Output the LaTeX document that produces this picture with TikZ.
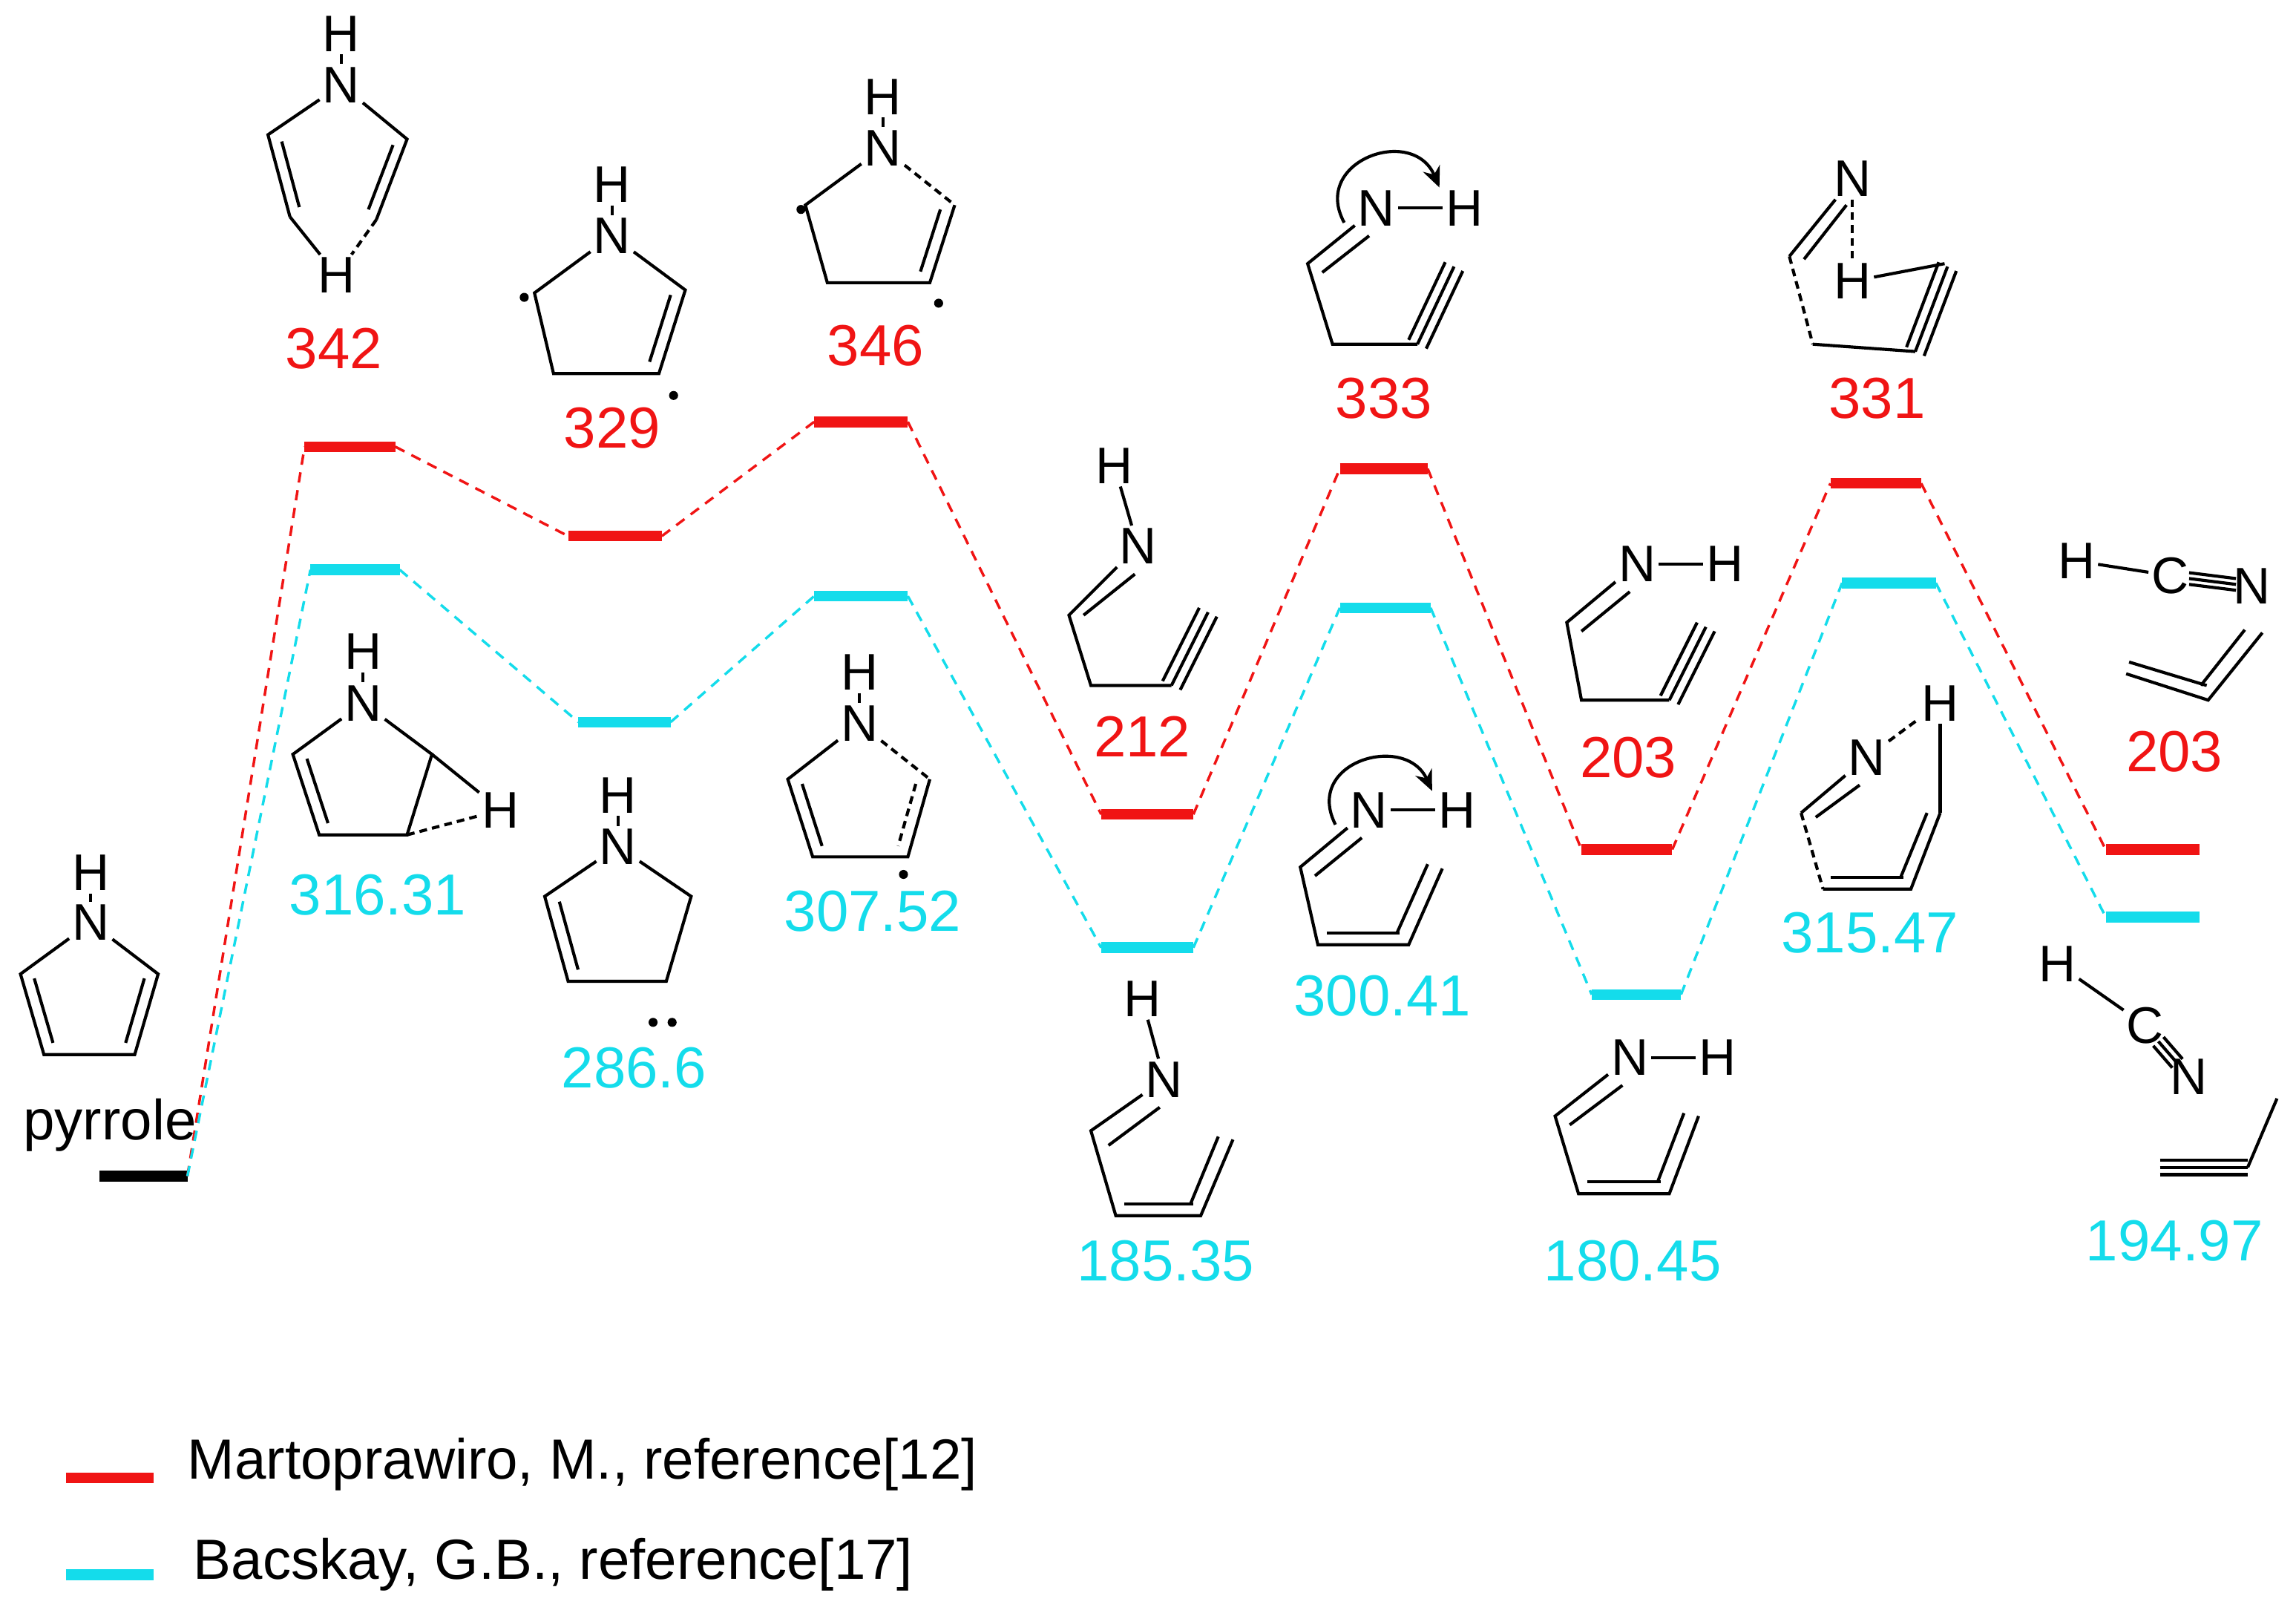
\documentclass[tikz,border=0pt]{standalone}
\usepackage{fontspec}
\setmainfont{Liberation Sans}
\usetikzlibrary{calc,arrows.meta}
\definecolor{myred}{RGB}{240,20,20}
\definecolor{mycyan}{RGB}{20,220,235}
\tikzset{
 bond/.style={line width=1.2pt,black},
 atm/.style={inner sep=1pt,font=\fontsize{20}{22}\selectfont},
 lvlr/.style={line width=4.2pt,myred},
 lvlc/.style={line width=4.2pt,mycyan},
 dr/.style={myred,line width=1pt,dash pattern=on 4pt off 3pt},
 dc/.style={mycyan,line width=1pt,dash pattern=on 4pt off 3pt},
 nr/.style={myred,font=\fontsize{22.5}{25}\selectfont},
 nc/.style={mycyan,font=\fontsize{22.5}{25}\selectfont},
 dsh/.style={bond,dash pattern=on 3pt off 2pt},
 dotm/.style={circle,fill=black,inner sep=0pt,minimum size=3.5pt}
}
\newcommand{\inb}[3]{\draw[bond] ($(#1)!.2!(#3)$)--($(#2)!.2!(#3)$);}
\newcommand{\pl}[3]{\draw[bond,shift={(#3)}] (#1)--(#2);}
\newcommand{\tri}[3]{\draw[bond] (#1)--(#2);\draw[bond,shift={(#3)}] (#1)--(#2);\draw[bond,shift={($-1*(#3)$)}] (#1)--(#2);}
\begin{document}
\begin{tikzpicture}[x=0.02cm,y=-0.02cm]
\useasboundingbox (0,0) rectangle (1568,1099);
% levels
\draw[line width=4.2pt] (68,803)--(128,803);
\foreach \a/\b/\y [count=\i] in {208/270/305,388/452/366,556/620/288,752/815/556,915/975/320,1080/1142/580,1250/1312/330,1438/1502/580}
  {\draw[lvlr] (\a,\y)--(\b,\y); \coordinate (rL\i) at (\a,\y); \coordinate (rR\i) at (\b,\y);}
\foreach \a/\b/\y [count=\i] in {212/273/389,395/458/493,556/620/407,752/815/647,915/977/415,1087/1148/679,1258/1322/398,1438/1502/626}
  {\draw[lvlc] (\a,\y)--(\b,\y); \coordinate (cL\i) at (\a,\y); \coordinate (cR\i) at (\b,\y);}
\coordinate (p0) at (128,803);
\draw[dr] (p0)--(rL1); \draw[dc] (p0)--(cL1);
\foreach \i [evaluate=\i as \j using int(\i+1)] in {1,...,7}{
  \draw[dr] (rR\i)--(rL\j); \draw[dc] (cR\i)--(cL\j);}
% numbers
\foreach \x/\y/\t in {228/238/342,418/292/329,598/236/346,780/503/212,945/272/333,1112/517/203,1282/272/331,1485/513/203}
  \node[nr] at (\x,\y) {\t};
\foreach \x/\y/\t in {258/611/316.31,433/729/286.6,596/622/307.52,796/861/185.35,944/680/300.41,1115/861/180.45,1277/637/315.47,1485/847/194.97}
  \node[nc] at (\x,\y) {\t};
% legend
\draw[lvlr] (45,1009)--(105,1009); \node[anchor=west,font=\fontsize{22}{24}\selectfont] at (122,1000) {Martoprawiro, M., reference[12]};
\draw[lvlc] (45,1075)--(105,1075); \node[anchor=west,font=\fontsize{22}{24}\selectfont] at (126,1068) {Bacskay, G.B., reference[17]};
% pyrrole
\node[atm] (aH) at (62,596) {H}; \node[atm] (aN) at (62,630) {N};
\draw[bond] (aH)--(aN); \draw[bond] (aN)--(108,665)--(92,720)--(30,720)--(14,665)--(aN);
\inb{108,665}{92,720}{61,680} \inb{14,665}{30,720}{61,680}
\node[font=\fontsize{22}{24}\selectfont] at (75,768) {pyrrole};
% 342
\node[atm] (bH) at (233,23) {H}; \node[atm] (bN) at (233,58) {N};
\draw[bond] (bH)--(bN); \draw[bond] (bN)--(278,95)--(257,150); \draw[bond] (bN)--(183,92)--(198,148);
\inb{278,95}{257,150}{230,115} \inb{183,92}{198,148}{230,115}
\node[atm] (bH2) at (230,188) {H};
\draw[bond] (198,148)--(bH2); \draw[dsh] (257,150)--(bH2);
% 329
\node[atm] (cH) at (418,126) {H}; \node[atm] (cN) at (418,161) {N};
\draw[bond] (cH)--(cN); \draw[bond] (cN)--(468,198)--(450,255)--(378,255)--(365,200)--(cN);
\inb{468,198}{450,255}{418,215}
\node[dotm] at (358,203) {}; \node[dotm] at (460,270) {};
% 346
\node[atm] (dH) at (603,66) {H}; \node[atm] (dN) at (603,101) {N};
\draw[bond] (dH)--(dN); \draw[dsh] (dN)--(652,140); \draw[bond] (652,140)--(635,193)--(565,193)--(550,140)--(dN);
\inb{652,140}{635,193}{603,155}
\node[dotm] at (547,143) {}; \node[dotm] at (641,207) {};
% 212
\node[atm] (eH) at (761,318) {H}; \node[atm] (eN) at (777,373) {N};
\draw[bond] (eH)--(eN); \draw[bond] (eN)--(730,420)--(745,468)--(800,468);
\pl{770,386}{735,414}{5,6}
\tri{800,468}{825,418}{6,3}
% 333
\node[atm] (fN) at (940,142) {N}; \node[atm] (fH) at (1000,142) {H};
\draw[bond] (fN)--(fH); \draw[bond] (fN)--(893,180)--(910,235)--(968,235);
\pl{930,155}{898,180}{5,6}
\tri{968,235}{993,182}{6,3}
\draw[bond,-{Stealth[length=8pt,width=7pt]}] (918,152) .. controls (895,110) and (965,85) .. (983,128);
% 203 red
\node[atm] (gN) at (1118,385) {N}; \node[atm] (gH) at (1178,385) {H};
\draw[bond] (gN)--(gH); \draw[bond] (gN)--(1070,425)--(1080,478)--(1140,478);
\pl{1108,398}{1075,425}{5,6}
\tri{1140,478}{1165,428}{6,3}
% 331
\node[atm] (hN) at (1265,122) {N}; \node[atm] (hH) at (1265,192) {H};
\draw[bond] (hN)--(1222,175); \pl{1255,135}{1226,172}{6,5}
\draw[dsh] (1222,175)--(1238,235); \draw[bond] (1238,235)--(1308,240);
\tri{1308,240}{1330,182}{6,3}
\draw[dsh] (hN)--(hH); \draw[bond] (hH)--(1328,180);
% 203 right
\node[atm] (iH) at (1418,383) {H}; \node[atm] (iC) at (1482,393) {C}; \node[atm] (iN) at (1538,400) {N};
\draw[bond] (iH)--(iC);
\tri{1495,395}{1527,399}{0,4}
\draw[bond] (1452,460)--(1508,478)--(1545,432);
\pl{1452,460}{1505,476}{2,-8}
\pl{1508,470}{1538,432}{-5,-2}
% 316.31
\node[atm] (jH) at (248,445) {H}; \node[atm] (jN) at (248,480) {N};
\draw[bond] (jH)--(jN); \draw[bond] (jN)--(295,515)--(278,570)--(218,570)--(200,515)--(jN);
\inb{200,515}{218,570}{248,530}
\node[atm] (jH2) at (342,553) {H};
\draw[bond] (295,515)--(jH2); \draw[dsh] (278,570)--(jH2);
% 286.6
\node[atm] (kH) at (422,543) {H}; \node[atm] (kN) at (422,578) {N};
\draw[bond] (kH)--(kN); \draw[bond] (kN)--(472,612)--(455,670)--(388,670)--(372,612)--(kN);
\inb{372,612}{388,670}{422,630}
\node[dotm] at (446,698) {}; \node[dotm] at (459,698) {};
% 307.52
\node[atm] (lH) at (587,459) {H}; \node[atm] (lN) at (587,494) {N};
\draw[bond] (lH)--(lN); \draw[dsh] (lN)--(635,532); \draw[bond] (635,532)--(620,585)--(555,585)--(538,532)--(lN);
\draw[dsh] ($(635,532)!.2!(587,548)$)--($(620,585)!.2!(587,548)$);
\inb{538,532}{555,585}{587,548}
\node[dotm] at (617,597) {};
% 185.35
\node[atm] (mH) at (780,682) {H}; \node[atm] (mN) at (795,737) {N};
\draw[bond] (mH)--(mN); \draw[bond] (mN)--(745,772)--(762,830)--(820,830)--(842,778);
\pl{787,750}{752,776}{5,6}
\pl{768,822}{815,822}{0,0}
\pl{813,822}{832,776}{0,0}
% 300.41
\node[atm] (nN) at (935,553) {N}; \node[atm] (nH) at (995,553) {H};
\draw[bond] (nN)--(nH); \draw[bond] (nN)--(888,592)--(900,645)--(962,645)--(985,593);
\pl{925,566}{893,592}{5,6}
\pl{906,637}{956,637}{0,0}
\pl{954,637}{975,590}{0,0}
\draw[bond,-{Stealth[length=8pt,width=7pt]}] (912,563) .. controls (890,520) and (960,500) .. (978,540);
% 180.45
\node[atm] (oN) at (1113,722) {N}; \node[atm] (oH) at (1173,722) {H};
\draw[bond] (oN)--(oH); \draw[bond] (oN)--(1062,762)--(1078,815)--(1140,815)--(1160,762);
\pl{1103,735}{1067,762}{5,6}
\pl{1084,807}{1134,807}{0,0}
\pl{1132,807}{1150,760}{0,0}
% 315.47
\node[atm] (qH) at (1325,480) {H}; \node[atm] (qN) at (1275,517) {N};
\draw[dsh] (qN)--(qH); \draw[bond] (qH)--(1325,555);
\draw[bond] (qN)--(1230,555); \pl{1265,530}{1235,552}{5,6}
\draw[dsh] (1230,555)--(1245,607); \draw[bond] (1245,607)--(1305,607)--(1325,555);
\pl{1250,599}{1300,599}{0,0}
\pl{1298,599}{1316,555}{0,0}
% 194.97
\node[atm] (rH) at (1405,658) {H}; \node[atm] (rC) at (1465,700) {C}; \node[atm] (rN) at (1495,735) {N};
\draw[bond] (rH)--(rC);
\tri{1474,711}{1487,726}{3.5,-3}
\tri{1475,797}{1535,797}{0,5}
\draw[bond] (1535,797)--(1555,750);
\end{tikzpicture}
\end{document}
